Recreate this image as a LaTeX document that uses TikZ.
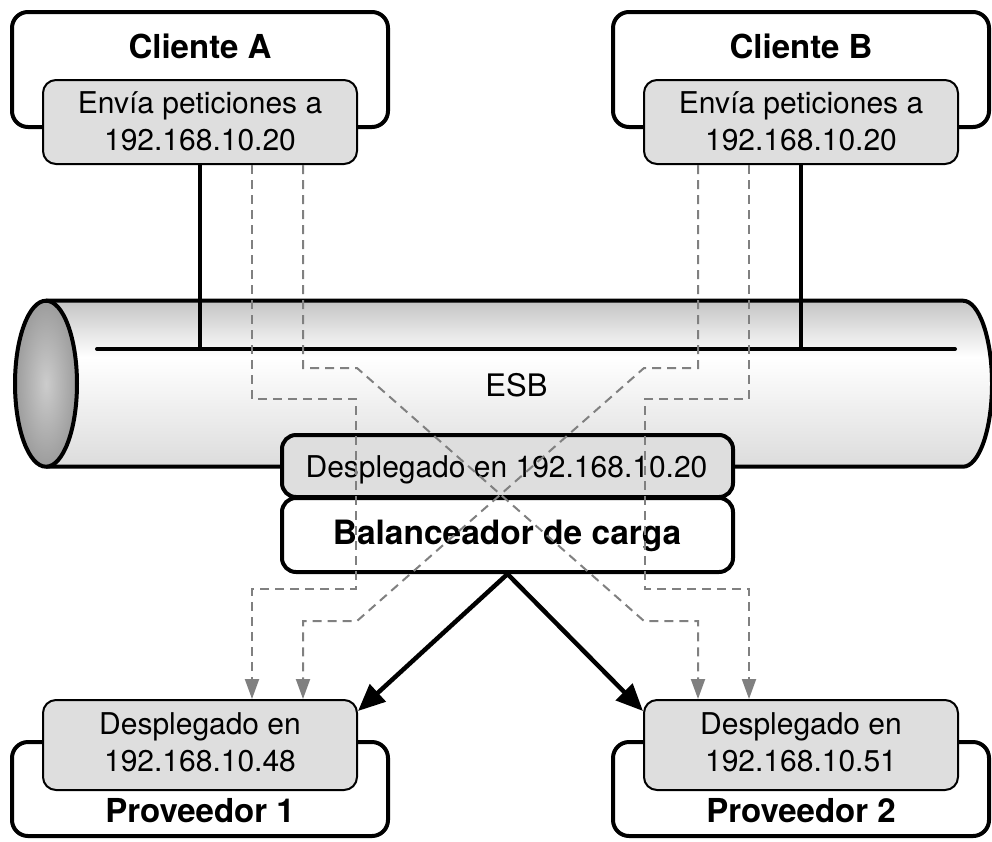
\documentclass[tikz,border=0pt]{standalone}
\usepackage{fontspec}
\setmainfont{TeX Gyre Heros}
\usetikzlibrary{arrows.meta,calc}

\definecolor{boxgray}{HTML}{DEDEDE}
\definecolor{dashgray}{HTML}{808080}
\definecolor{tubetop}{HTML}{C4C4C4}
\definecolor{tubebot}{HTML}{DCDCDC}
\definecolor{facein}{HTML}{CCCCCC}
\definecolor{faceout}{HTML}{9C9C9C}

% body of the bus: grey at the top rim, white just under the bus line, light grey below
\pgfdeclareverticalshading{tubeshade}{100bp}{color(0bp)=(tubebot); color(25bp)=(tubebot); color(58bp)=(white); color(75bp)=(tubetop); color(100bp)=(tubetop)}

\begin{document}
\begin{tikzpicture}[x=1pt,y=-1pt,
  outerbox/.style={draw, line width=4pt, rounded corners=16pt, fill=white, inner sep=0pt},
  graybox/.style={draw, line width=2pt, rounded corners=13pt, fill=boxgray, inner sep=0pt},
  heavygray/.style={draw, line width=4pt, rounded corners=14pt, fill=boxgray, inner sep=0pt},
  heavywhite/.style={draw, line width=4pt, rounded corners=14pt, fill=white, inner sep=0pt},
  titletext/.style={font=\fontsize{33}{40}\selectfont\bfseries, inner sep=0pt, anchor=base},
  bodytext/.style={font=\fontsize{30}{36}\selectfont, inner sep=0pt, anchor=base},
  wire/.style={line width=4pt, line cap=round},
  flow/.style={line width=4.5pt, -{Triangle[length=27pt,width=23pt]}},
  request/.style={draw=dashgray, line width=2pt, dash pattern=on 9pt off 6pt,
                  -{Triangle[length=20pt,width=14pt]}},
]
\fill[white] (0,0) rectangle (992,841);
\useasboundingbox (0,0) rectangle (992,841);

% ---------- ESB tube ----------
\shade[shading=tubeshade] (46,300.7) -- (963,300.7)
  arc[start angle=-90, end angle=90, x radius=29, y radius=83] -- (46,466.7) -- cycle;
\draw[line width=4pt] (46,300.7) -- (963,300.7)
  arc[start angle=-90, end angle=90, x radius=29, y radius=83] -- (46,466.7);
\shade[inner color=facein, outer color=faceout] (46,383.7) ellipse [x radius=31, y radius=83];
\draw[line width=4pt] (46,383.7) ellipse [x radius=31, y radius=83];

\coordinate (busL) at (97,349);
\coordinate (busR) at (955,349);
\draw[wire] (busL) -- (busR);
\node[bodytext, font=\fontsize{31}{36}\selectfont] (esb) at (516.5,396) {ESB};

% ---------- clients ----------
\node[outerbox, minimum width=376pt, minimum height=115pt] (ca) at (200,69.5) {};
\node[graybox, minimum width=314pt, minimum height=84pt] (ga) at (200,122) {};
\node[titletext] (caT) at (200,58) {Cliente A};
\node[bodytext] (gaT1) at (200,113) {Envía peticiones a};
\node[bodytext] (gaT2) at (200,150) {192.168.10.20};

\node[outerbox, minimum width=376pt, minimum height=115pt] (cb) at (801,69.5) {};
\node[graybox, minimum width=314pt, minimum height=84pt] (gb) at (801,122) {};
\node[titletext] (cbT) at (801,58) {Cliente B};
\node[bodytext] (gbT1) at (801,113) {Envía peticiones a};
\node[bodytext] (gbT2) at (801,150) {192.168.10.20};

\draw[line width=4pt] (ga.south) -- (ga.south |- busL);
\draw[line width=4pt] (gb.south) -- (gb.south |- busL);

% ---------- load balancer ----------
\node[heavygray, minimum width=451pt, minimum height=62pt] (dep) at (507.5,466) {};
\node[bodytext] (depT) at (506.5,477) {Desplegado en 192.168.10.20};
\node[heavywhite, minimum width=451pt, minimum height=74pt] (bal) at (507.5,535) {};
\node[titletext, font=\fontsize{33.5}{40}\selectfont\bfseries] (balT) at (507,544) {Balanceador de carga};

% ---------- providers ----------
\node[outerbox, minimum width=376pt, minimum height=94pt] (p1) at (200,789) {};
\node[graybox, minimum width=314pt, minimum height=90pt] (p1g) at (200,745) {};
\node[bodytext] (p1T1) at (200,734) {Desplegado en};
\node[bodytext] (p1T2) at (200,771) {192.168.10.48};
\node[titletext] (p1T) at (200,822) {Proveedor 1};

\node[outerbox, minimum width=376pt, minimum height=94pt] (p2) at (801,789) {};
\node[graybox, minimum width=314pt, minimum height=90pt] (p2g) at (801,745) {};
\node[bodytext] (p2T1) at (801,734) {Desplegado en};
\node[bodytext] (p2T2) at (801,771) {192.168.10.51};
\node[titletext] (p2T) at (801,822) {Proveedor 2};

% ---------- balancer dispatch ----------
\draw[flow] (bal.south) -- ([yshift=-12pt]p1g.north east);
\draw[flow] (bal.south) -- ([yshift=-12pt]p2g.north west);

% ---------- request routes ----------
\draw[request] ([xshift=52pt]ga.south) |- (356,399) -- (356,589) -| ([xshift=52pt]p1g.north);
\draw[request] ([xshift=103pt]ga.south) |- (357,368) -- (644,621) -| ([xshift=-103pt]p2g.north);
\draw[request] ([xshift=-103pt]gb.south) |- (644,368) -- (357,621) -| ([xshift=103pt]p1g.north);
\draw[request] ([xshift=-52pt]gb.south) |- (645,399) -- (645,589) -| ([xshift=-52pt]p2g.north);
\end{tikzpicture}
\end{document}
